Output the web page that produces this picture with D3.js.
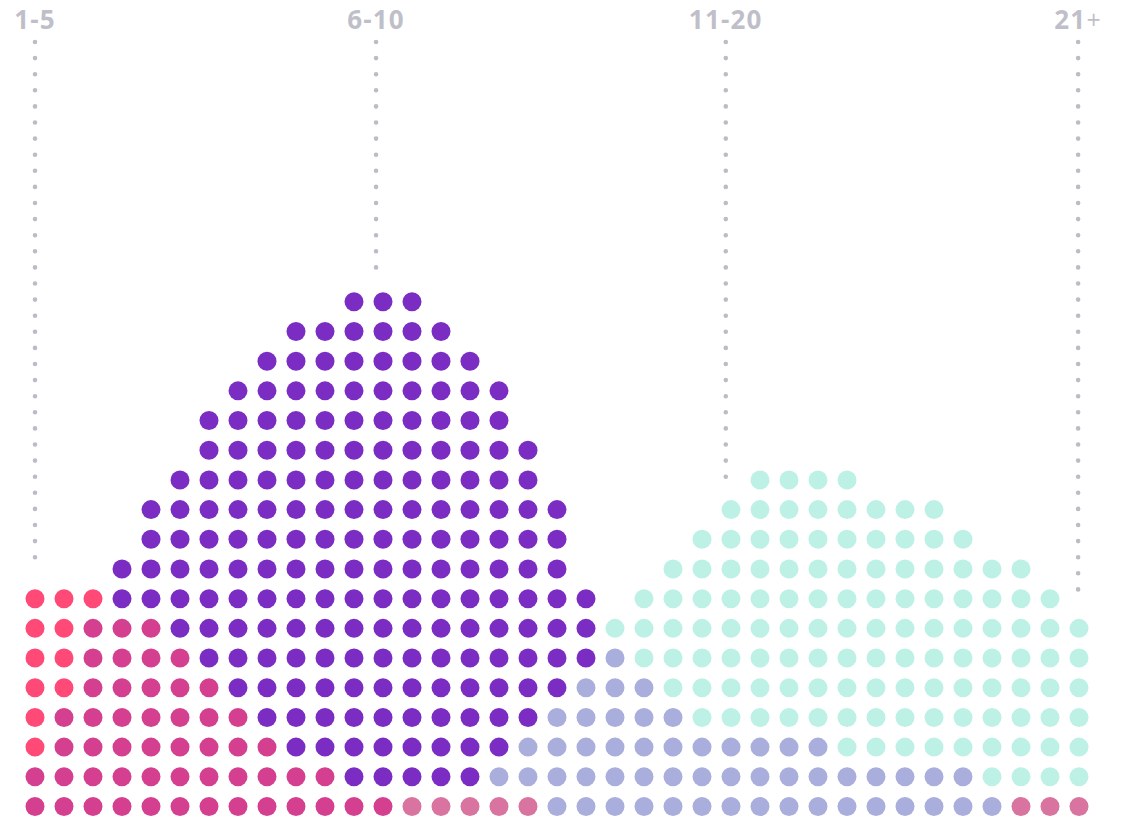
<!DOCTYPE html>
<html>
<head>
<meta charset="utf-8">
<script src="https://cdn.jsdelivr.net/npm/d3@7/dist/d3.min.js"></script>
<style>
  html, body { margin: 0; padding: 0; background: #ffffff; }
  svg { display: block; }
</style>
</head>
<body>
<svg id="chart" width="1122" height="818"></svg>
<script>
// ---- DATA ----
// column index (0..36), dots counted per column for each series, stacked bottom -> top
const columns = [0,1,2,3,4,5,6,7,8,9,10,11,12,13,14,15,16,17,18,19,20,21,22,23,24,25,26,27,28,29,30,31,32,33,34,35,36];
const rose     = [0,0,0,0,0,0,0,0,0,0,0,0,0,1,1,1,1,1,0,0,0,0,0,0,0,0,0,0,0,0,0,0,0,0,1,1,1];
const magenta  = [2,4,7,7,7,6,5,4,3,2,2,1,1,0,0,0,0,0,0,0,0,0,0,0,0,0,0,0,0,0,0,0,0,0,0,0,0];
const lavender = [0,0,0,0,0,0,0,0,0,0,0,0,0,0,0,0,1,2,4,5,6,5,4,3,3,3,3,3,2,2,2,2,2,1,0,0,0];
const coral    = [6,4,1,0,0,0,0,0,0,0,0,0,0,0,0,0,0,0,0,0,0,0,0,0,0,0,0,0,0,0,0,0,0,0,0,0,0];
const purple   = [0,0,0,2,4,6,9,11,13,15,15,17,17,17,16,15,13,10,7,3,0,0,0,0,0,0,0,0,0,0,0,0,0,0,0,0,0];
const mint     = [0,0,0,0,0,0,0,0,0,0,0,0,0,0,0,0,0,0,0,0,1,3,5,7,8,9,9,9,10,9,9,9,8,8,8,7,6];

const seriesNames  = ["rose", "magenta", "lavender", "coral", "purple", "mint"];
const seriesValues = [rose, magenta, lavender, coral, purple, mint];
const seriesColors = ["#d9739f", "#d4408f", "#a9aedc", "#ff4a78", "#7b2dc3", "#bdf1e6"];

// group labels and their position along the column axis
const groupLabels    = ["1-5", "6-10", "11-20", "21+"];
const groupPositions = [0, 11.76, 23.82, 35.97];

// ---- BUILD ----
const svg = d3.select("#chart");

const x = d3.scaleLinear().domain([0, 36]).range([35, 1079]);
const y = d3.scaleLinear().domain([0, 17]).range([806.5, 301.8]);
const color = d3.scaleOrdinal().domain(seriesNames).range(seriesColors);

const dots = [];
const heights = columns.map(() => 0);
columns.forEach((c, ci) => {
  seriesValues.forEach((vals, si) => {
    for (let k = 0; k < vals[ci]; k++) {
      dots.push({ col: c, row: heights[ci], series: seriesNames[si] });
      heights[ci] += 1;
    }
  });
});

// dotted guide lines
const guides = groupLabels.map((label, i) => ({
  label,
  pos: groupPositions[i],
  top: heights[Math.round(groupPositions[i])]
}));

svg.append("g")
  .selectAll("line")
  .data(guides)
  .join("line")
  .attr("x1", d => x(d.pos))
  .attr("x2", d => x(d.pos))
  .attr("y1", 42)
  .attr("y2", d => y(d.top))
  .attr("stroke", "#bcbcc6")
  .attr("stroke-width", 4.6)
  .attr("stroke-linecap", "round")
  .attr("stroke-dasharray", "0 16.1");

// labels
const labels = svg.append("g")
  .selectAll("text")
  .data(guides)
  .join("text")
  .attr("x", d => x(d.pos))
  .attr("y", 29)
  .attr("text-anchor", "middle")
  .attr("font-family", "'Open Sans', 'Liberation Sans', sans-serif")
  .attr("font-weight", 700)
  .attr("font-size", 26)
  .attr("letter-spacing", 1.2)
  .attr("fill", "#bfbfca");

labels.each(function(d) {
  const t = d3.select(this);
  if (d.label.endsWith("+")) {
    t.append("tspan").text(d.label.slice(0, -1));
    t.append("tspan").attr("font-weight", 400).attr("font-size", 25).text("+");
  } else {
    t.text(d.label);
  }
});

// dots
svg.append("g")
  .selectAll("circle")
  .data(dots)
  .join("circle")
  .attr("cx", d => x(d.col))
  .attr("cy", d => y(d.row))
  .attr("r", 9.5)
  .attr("fill", d => color(d.series));
</script>
</body>
</html>
